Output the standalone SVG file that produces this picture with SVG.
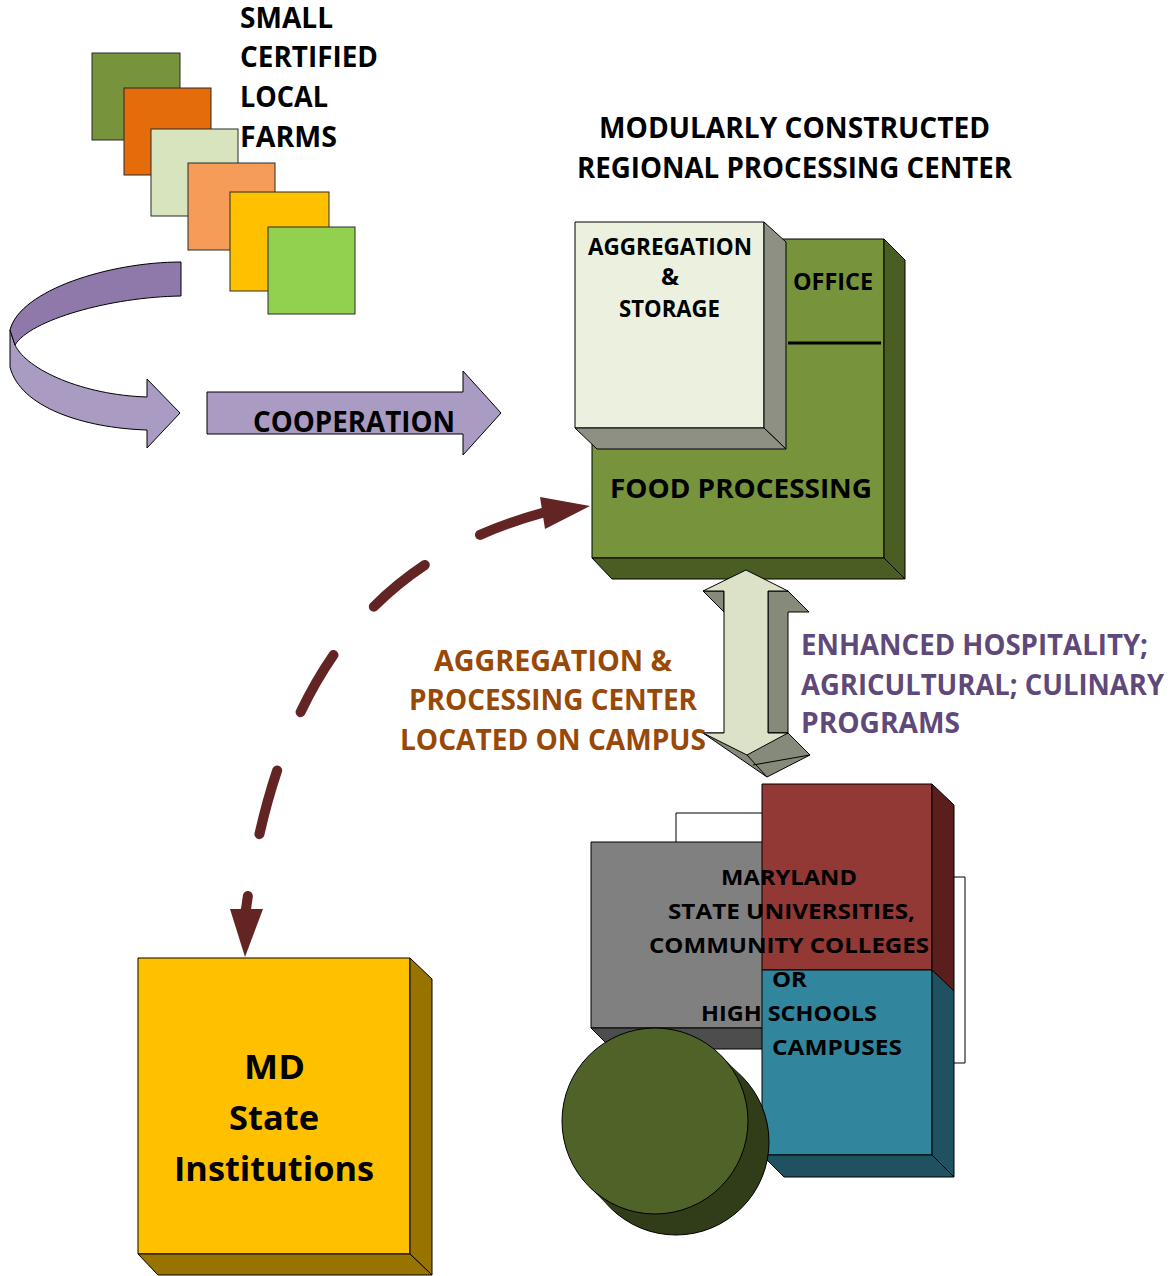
<svg xmlns="http://www.w3.org/2000/svg" width="1174" height="1276" viewBox="0 0 1174 1276">
<style>
.t{font-family:'Open Sans',Lato,'Liberation Sans',sans-serif;font-weight:bold;fill:#000}
.o{stroke:#000;stroke-width:1;stroke-linejoin:round}
.sq{stroke:#2b2b2b;stroke-width:1}
.brown{fill:#984807}
.purple{fill:#5F497A}
</style>
<rect width="1174" height="1276" fill="#fff"/>

<g id="farms">
<rect class="sq" x="92" y="53" width="88" height="87" fill="#77933C"/>
<rect class="sq" x="124" y="88" width="87" height="87" fill="#E46C0A"/>
<rect class="sq" x="151" y="129" width="87" height="87" fill="#D7E4BD"/>
<rect class="sq" x="188" y="163" width="87" height="87" fill="#F59D58"/>
<rect class="sq" x="230" y="192" width="99" height="99" fill="#FFC000"/>
<rect class="sq" x="268" y="227" width="87" height="87" fill="#92D050"/>
<text class="t" font-size="28" x="240" y="28" textLength="93" lengthAdjust="spacingAndGlyphs">SMALL</text>
<text class="t" font-size="28" x="240" y="67" textLength="138" lengthAdjust="spacingAndGlyphs">CERTIFIED</text>
<text class="t" font-size="28" x="240" y="107" textLength="88" lengthAdjust="spacingAndGlyphs">LOCAL</text>
<text class="t" font-size="28" x="240" y="147" textLength="97" lengthAdjust="spacingAndGlyphs">FARMS</text>
</g>

<g id="u-turn-arrow">
<path class="o" fill="#A99BC1" d="M10,330 L10,367 C20,407 83,428 147,430 L147,448 L180,413 L147,379 L147,397 C83,395 27,370 15,345 Z"/>
<path class="o" fill="#8F79AB" d="M181,262 C110,262 20,290 10,330 L15,345 C30,320 110,297 181,296 Z"/>
</g>

<g id="cooperation">
<polygon class="o" fill="#A99BC1" points="207,392 463,392 463,371 501,413 463,455 463,434 207,434"/>
<text class="t" font-size="28" x="253" y="432" textLength="202" lengthAdjust="spacingAndGlyphs">COOPERATION</text>
</g>

<g id="title">
<text class="t" font-size="28" x="599" y="138" textLength="391" lengthAdjust="spacingAndGlyphs">MODULARLY CONSTRUCTED</text>
<text class="t" font-size="28" x="577" y="178" textLength="435" lengthAdjust="spacingAndGlyphs">REGIONAL PROCESSING CENTER</text>
</g>

<g id="food-processing">
<rect class="o" x="592" y="239" width="292" height="319" fill="#77933C"/>
<polygon class="o" fill="#4A5D23" points="884,239 905,260 905,579 884,558"/>
<polygon class="o" fill="#4A5D23" points="592,558 884,558 905,579 612,579"/>
<line x1="788" y1="343" x2="881" y2="343" stroke="#000" stroke-width="3"/>
<text class="t" font-size="24" x="793" y="290" textLength="80" lengthAdjust="spacingAndGlyphs">OFFICE</text>
<text class="t" font-size="26" x="610" y="498" textLength="262" lengthAdjust="spacingAndGlyphs">FOOD PROCESSING</text>
</g>

<g id="aggregation-storage">
<rect class="o" x="575" y="222" width="189" height="206" fill="#EBF1DE"/>
<polygon class="o" fill="#8D9083" points="764,222 786,242 786,449 764,428"/>
<polygon class="o" fill="#8D9083" points="575,428 764,428 786,449 597,449"/>
<text class="t" font-size="24" x="588" y="255" textLength="164" lengthAdjust="spacingAndGlyphs">AGGREGATION</text>
<text class="t" font-size="24" x="670" y="285" text-anchor="middle">&amp;</text>
<text class="t" font-size="24" x="619" y="317" textLength="101" lengthAdjust="spacingAndGlyphs">STORAGE</text>
</g>

<g id="connectors">
<path d="M246,909 C280,660 390,555 542,513" fill="none" stroke="#632523" stroke-width="10" stroke-linecap="round" stroke-dasharray="66 63" stroke-dashoffset="53"/>
<polygon fill="#632523" points="230,909 263,909 245,957"/>
<polygon fill="#632523" points="540,497 590,506 545,529"/>
<g id="double-arrow">
<polygon class="o" fill="#858A7B" points="703,591 724,591 724,612"/>
<polygon class="o" fill="#858A7B" points="768,591 788,591 809,612 788,612 788,733 768,733"/>
<polygon class="o" fill="#858A7B" points="703,733 788,733 810,755 767,777"/>
<polygon class="o" fill="#DCE2C8" points="746,570 788,591 768,591 768,733 788,733 747,755 703,733 724,733 724,591 703,591"/>
<line class="o" x1="747" y1="755" x2="767" y2="777"/>
<line class="o" x1="753" y1="765" x2="810" y2="755"/>
</g>
</g>

<g id="label-aggregation">
<text class="t brown" font-size="28" x="434" y="671" textLength="238" lengthAdjust="spacingAndGlyphs">AGGREGATION &amp;</text>
<text class="t brown" font-size="28" x="409" y="710" textLength="288" lengthAdjust="spacingAndGlyphs">PROCESSING CENTER</text>
<text class="t brown" font-size="28" x="400" y="750" textLength="306" lengthAdjust="spacingAndGlyphs">LOCATED ON CAMPUS</text>
</g>

<g id="label-programs">
<text class="t purple" font-size="28" x="801" y="655" textLength="347" lengthAdjust="spacingAndGlyphs">ENHANCED HOSPITALITY;</text>
<text class="t purple" font-size="28" x="801" y="695" textLength="363" lengthAdjust="spacingAndGlyphs">AGRICULTURAL; CULINARY</text>
<text class="t purple" font-size="28" x="801" y="733" textLength="159" lengthAdjust="spacingAndGlyphs">PROGRAMS</text>
</g>

<g id="campuses">
<rect class="o" x="676" y="813" width="150" height="100" fill="#fff"/>
<rect class="o" x="870" y="877" width="95" height="186" fill="#fff"/>
<rect class="o" x="591" y="842" width="180" height="186" fill="#808080"/>
<polygon class="o" fill="#4D4D4D" points="591,1028 771,1028 792,1049 612,1049"/>
<rect class="o" x="762" y="784" width="170" height="186" fill="#923835"/>
<polygon class="o" fill="#5A1F1D" points="932,784 954,805 954,991 932,970"/>
<rect class="o" x="762" y="970" width="170" height="185" fill="#31859C"/>
<polygon class="o" fill="#205160" points="932,970 954,991 954,1177 932,1155"/>
<polygon class="o" fill="#205160" points="762,1155 932,1155 954,1177 784,1177"/>
<g id="cylinder">
<circle class="o" cx="676" cy="1142" r="93" fill="#313D18"/>
<polygon fill="#313D18" points="720.8,1055.2 741.8,1076.2 610.2,1207.8 589.2,1186.8"/>
<circle class="o" cx="655" cy="1121" r="93" fill="#4F6228"/>
</g>
<text class="t" font-size="22" x="721" y="885" textLength="136" lengthAdjust="spacingAndGlyphs">MARYLAND</text>
<text class="t" font-size="22" x="668" y="919" textLength="247" lengthAdjust="spacingAndGlyphs">STATE UNIVERSITIES,</text>
<text class="t" font-size="22" x="649" y="953" textLength="280" lengthAdjust="spacingAndGlyphs">COMMUNITY COLLEGES</text>
<text class="t" font-size="22" x="772" y="987" textLength="35" lengthAdjust="spacingAndGlyphs">OR</text>
<text class="t" font-size="22" x="701" y="1021" textLength="176" lengthAdjust="spacingAndGlyphs">HIGH SCHOOLS</text>
<text class="t" font-size="22" x="772" y="1055" textLength="130" lengthAdjust="spacingAndGlyphs">CAMPUSES</text>
</g>

<g id="md-state-institutions">
<rect class="o" x="138" y="958" width="272" height="296" fill="#FFC000"/>
<polygon class="o" fill="#997300" points="410,958 432,979 432,1275 410,1254"/>
<polygon class="o" fill="#997300" points="138,1254 410,1254 432,1275 158,1275"/>
<text class="t" font-size="34" x="244" y="1079" textLength="61" lengthAdjust="spacingAndGlyphs">MD</text>
<text class="t" font-size="34" x="229" y="1130" textLength="90" lengthAdjust="spacingAndGlyphs">State</text>
<text class="t" font-size="34" x="174" y="1181" textLength="200" lengthAdjust="spacingAndGlyphs">Institutions</text>
</g>
</svg>
